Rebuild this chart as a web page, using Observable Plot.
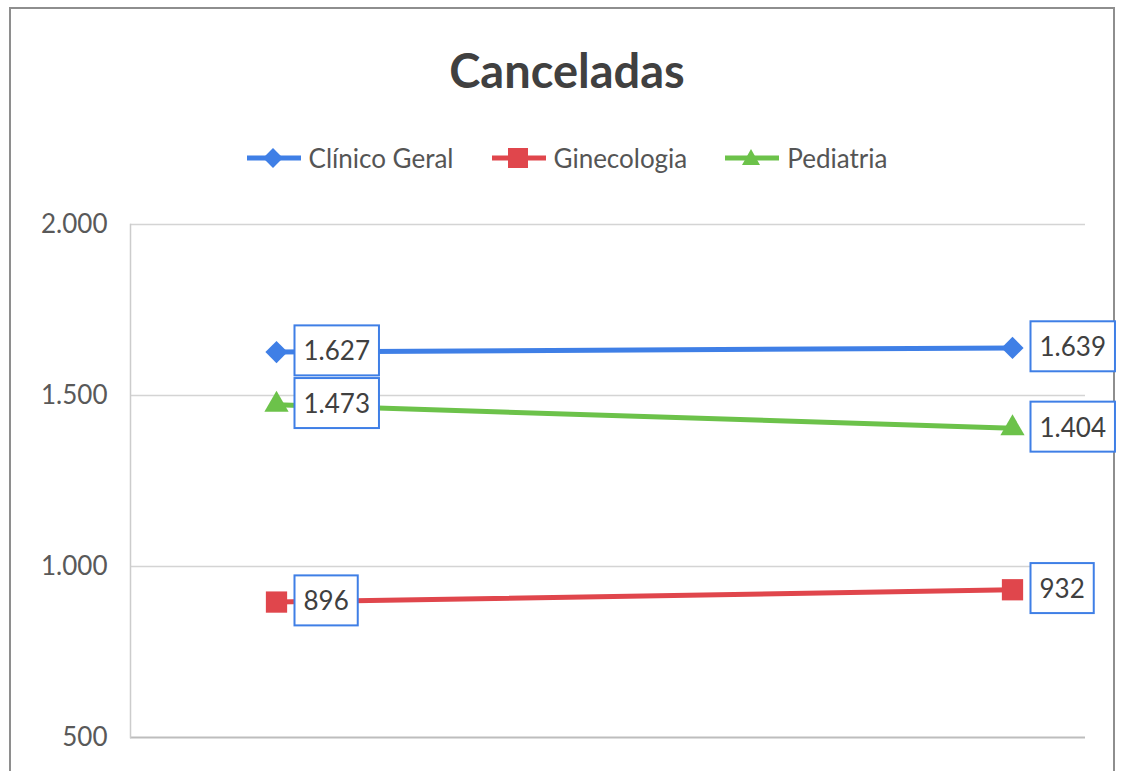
<!DOCTYPE html>
<html><head><meta charset="utf-8">
<script src="https://cdn.jsdelivr.net/npm/d3@7"></script>
<script src="https://cdn.jsdelivr.net/npm/@observablehq/plot@0.6"></script>
<style>
body{margin:0;width:1122px;height:771px;overflow:hidden;background:#fff;position:relative;font-family:Lato,"Open Sans",sans-serif;}
#frame{position:absolute;left:9px;top:7px;width:1106px;height:820px;border:2px solid #8e8e8e;box-sizing:border-box;}
#title{position:absolute;left:6px;width:1122px;top:40px;text-align:center;font-weight:700;font-size:47px;color:#404040;line-height:60px;}
#legend{position:absolute;left:6px;width:1122px;top:140px;height:36px;display:flex;justify-content:center;align-items:center;gap:38px;font-size:26px;color:#555;}
.item{display:flex;align-items:center;gap:8px;}
#chart{position:absolute;left:0;top:200px;}
</style>
</head><body>
<div id="frame"></div>
<div id="title">Canceladas</div>
<div id="legend"></div>
<div id="chart"></div>
<script>
const periods = ["Período 1", "Período 2"];
const seriesNames = ["Clínico Geral", "Ginecologia", "Pediatria"];
const clinicoGeral = [1627, 1639];
const ginecologia = [896, 932];
const pediatria = [1473, 1404];
const yTicks = [500, 1000, 1500, 2000];
const colors = ["#3f7fe6", "#e0464c", "#6cc24a"];
const symbols = ["diamond2", "square", "triangle"];

const seriesValues = [clinicoGeral, ginecologia, pediatria];
const rows = [];
seriesNames.forEach((s, i) => periods.forEach((p, j) => rows.push({series: s, period: p, value: seriesValues[i][j]})));

const fmt = d3.formatLocale({decimal: ",", thousands: ".", grouping: [3], currency: ["R$", ""]}).format(",");

// legend
const legend = document.getElementById("legend");
seriesNames.forEach((s, i) => {
  const item = document.createElement("div");
  item.className = "item";
  let marker;
  if (i === 0) marker = `<rect x="19" y="5" width="14" height="14" transform="rotate(45 26 12)" fill="${colors[i]}"/>`;
  else if (i === 1) marker = `<rect x="16" y="2" width="20" height="20" fill="${colors[i]}"/>`;
  else marker = `<path d="M26,3 L35,19 L17,19 Z" fill="${colors[i]}"/>`;
  item.innerHTML = `<svg width="54" height="24"><line x1="0" y1="12" x2="54" y2="12" stroke="${colors[i]}" stroke-width="5"/>${marker}</svg><span>${s}</span>`;
  legend.appendChild(item);
});

const chart = Plot.plot({
  width: 1122, height: 571,
  marginTop: 24, marginBottom: 34, marginLeft: 130, marginRight: 37,
  style: {fontFamily: "Lato, 'Open Sans', sans-serif", fontSize: "26px", color: "#595959", background: "transparent"},
  x: {type: "point", domain: periods, padding: 0, insetLeft: 146, insetRight: 73, axis: null},
  y: {domain: [500, 2000], ticks: yTicks, tickFormat: fmt, tickSize: 0, tickPadding: 23, label: null},
  color: {domain: seriesNames, range: colors},
  symbol: {domain: seriesNames, range: symbols},
  marks: [
    Plot.ruleY(yTicks.slice(1), {stroke: "#d4d4d4", strokeWidth: 1.5}),
    Plot.ruleY([yTicks[0]], {stroke: "#bdbdbd", strokeWidth: 2}),
    Plot.frame({anchor: "left", stroke: "#cccccc", strokeWidth: 1.5}),
    Plot.line(rows, {x: "period", y: "value", z: "series", stroke: "series", strokeWidth: 5}),
    Plot.dot(rows.filter(d => d.series === seriesNames[0]), {x: "period", y: "value", symbol: "series", fill: "series", r: 10}),
    Plot.dot(rows.filter(d => d.series === seriesNames[1]), {x: "period", y: "value", symbol: "series", fill: "series", r: 12}),
    Plot.dot(rows.filter(d => d.series === seriesNames[2]), {x: "period", y: "value", symbol: "series", fill: "series", r: 9}),
    Plot.text(rows, {x: "period", y: "value", text: d => fmt(d.value), dx: 27, textAnchor: "start", fill: "#404040", fontSize: 26})
  ]
});
document.getElementById("chart").appendChild(chart);

// boxes behind data labels
chart.querySelectorAll('g[aria-label="text"]').forEach(g => {
  const texts = Array.from(g.querySelectorAll("text"));
  texts.forEach(t => {
    const bb = t.getBBox();
    const m = t.getAttribute("transform");
    const r = document.createElementNS("http://www.w3.org/2000/svg", "rect");
    const cy = bb.y + bb.height / 2;
    r.setAttribute("x", bb.x - 9);
    r.setAttribute("y", cy - 25);
    r.setAttribute("width", bb.width + 18);
    r.setAttribute("height", 50);
    r.setAttribute("fill", "#fff");
    r.setAttribute("stroke", "#3f7fe6");
    r.setAttribute("stroke-width", 2);
    if (m) r.setAttribute("transform", m);
    g.insertBefore(r, t);
  });
});
</script>
</body></html>
